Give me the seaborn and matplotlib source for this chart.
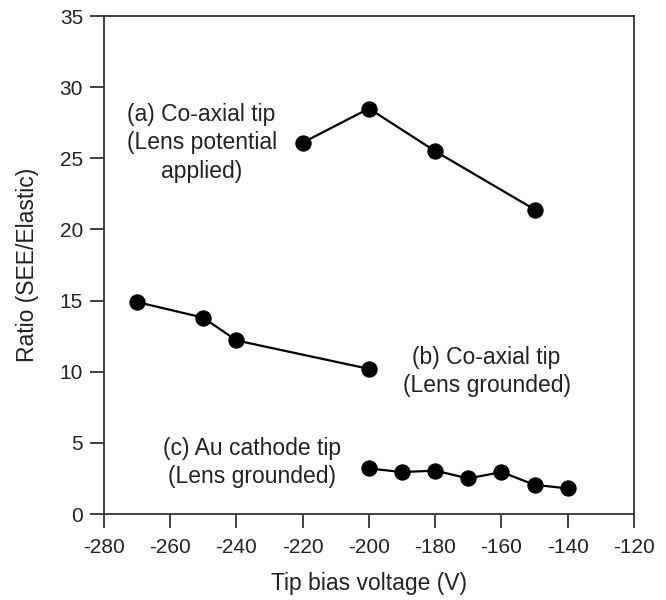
import pandas as pd
import numpy as np
import matplotlib
matplotlib.use("Agg")
import matplotlib.pyplot as plt
import seaborn as sns

# Datos
volt_a = [-220, -200, -180, -150]
ratio_a = [26.1, 28.5, 25.5, 21.4]

volt_b = [-270, -250, -240, -200]
ratio_b = [14.9, 13.8, 12.2, 10.2]

volt_c = [-200, -190, -180, -170, -160, -150, -140]
ratio_c = [3.2, 2.95, 3.05, 2.5, 2.95, 2.05, 1.8]

labels = {
    "a": "(a) Co-axial tip\n(Lens potential\napplied)",
    "b": "(b) Co-axial tip\n(Lens grounded)",
    "c": "(c) Au cathode tip\n(Lens grounded)",
}

df = pd.concat([
    pd.DataFrame({"volt": volt_a, "ratio": ratio_a, "serie": "a"}),
    pd.DataFrame({"volt": volt_b, "ratio": ratio_b, "serie": "b"}),
    pd.DataFrame({"volt": volt_c, "ratio": ratio_c, "serie": "c"}),
])

sns.set_style("ticks")
plt.rcParams['font.family'] = ['Liberation Sans', 'DejaVu Sans']
plt.rcParams['axes.unicode_minus'] = False

fig = plt.figure(figsize=(6.66, 6.0), dpi=100)
ax = fig.add_axes([0.156, 0.1433, 0.796, 0.83])

sns.lineplot(data=df, x="volt", y="ratio", units="serie", estimator=None,
             color="black", marker="o", markersize=11, markeredgecolor="black",
             linewidth=1.6, sort=False, ax=ax)

fs_txt = 16.5
ax.text(-250.5, 26.1, labels["a"], ha="center", va="center", fontsize=fs_txt,
        linespacing=1.3, color="#222222")
ax.text(-164.5, 10.0, labels["b"], ha="center", va="center", fontsize=fs_txt,
        linespacing=1.3, color="#222222")
ax.text(-235.3, 3.6, labels["c"], ha="center", va="center", fontsize=fs_txt,
        linespacing=1.3, color="#222222")

ax.set_xlim(-280, -120)
ax.set_ylim(0, 35)
ax.set_xticks(np.arange(-280, -119, 20))
ax.set_yticks(np.arange(0, 36, 5))
ax.set_xlabel("Tip bias voltage (V)", fontsize=fs_txt, labelpad=11, color="#222222")
ax.set_ylabel("Ratio (SEE/Elastic)", fontsize=fs_txt, labelpad=15, color="#222222")
ax.tick_params(labelsize=15, length=10, width=1.3, color="#333333",
               labelcolor="#222222")
ax.tick_params(axis="x", pad=7)
ax.tick_params(axis="y", pad=5)
for s in ax.spines.values():
    s.set_linewidth(1.3)
    s.set_color("#333333")

fig.savefig("out.png", dpi=100)
